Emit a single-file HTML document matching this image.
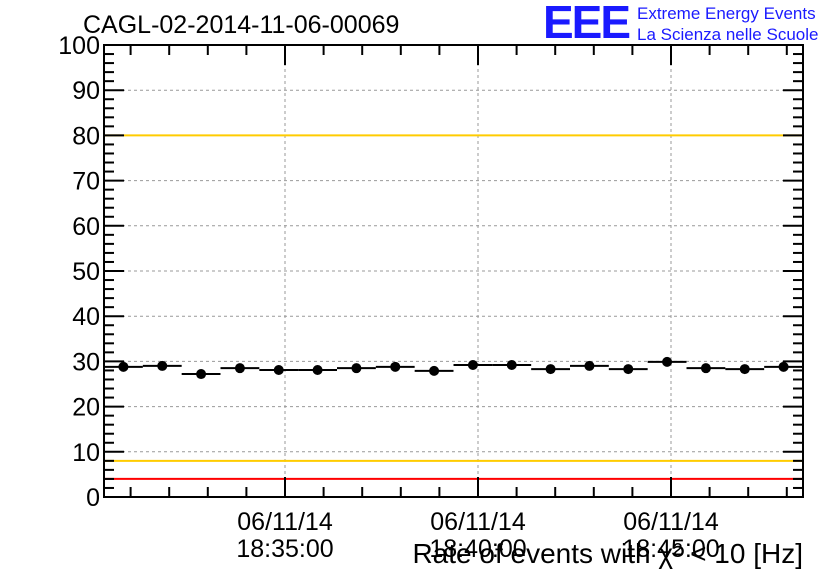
<!DOCTYPE html>
<html><head><meta charset="utf-8"><style>
body{margin:0;background:#fff;width:836px;height:572px;overflow:hidden}
svg{font-family:"Liberation Sans",sans-serif}
</style></head><body>
<svg id="chart" width="836" height="572">
<g id="grid"></g><g id="axes"></g><g id="marks"></g>
<text x="83" y="33" font-size="25" fill="#000">CAGL-02-2014-11-06-00069</text>
<text x="543" y="38" font-size="46" font-weight="bold" fill="#1a1aff" letter-spacing="-2">EEE</text>
<text x="637" y="19" font-size="17" fill="#1a1aff">Extreme Energy Events</text>
<text x="637" y="40" font-size="17" fill="#1a1aff">La Scienza nelle Scuole</text>
<text x="803" y="563" font-size="28" text-anchor="end" fill="#000">Rate of events with χ² &lt; 10 [Hz]</text>
</svg>
<script>
const values=[28.8,29.0,27.2,28.5,28.1,28.1,28.5,28.8,27.9,29.2,29.2,28.3,29.0,28.3,29.9,28.5,28.3,28.8];
const yTicks=[0,10,20,30,40,50,60,70,80,90,100];
const timeLabels=["18:35:00","18:40:00","18:45:00"];
const dateLabel="06/11/14";
const refLines=[{v:100,c:"#ff0000"},{v:80,c:"#ffcc00"},{v:8,c:"#ffcc00"},{v:4,c:"#ff0000"}];
const L=104,R=803,T=45,B=497;
const y=v=>B-(v/100)*(B-T);
const bw=(R-L)/values.length;
const x=i=>L+bw*(i+0.5);
const NS="http://www.w3.org/2000/svg";
function mk(p,tag,a){const e=document.createElementNS(NS,tag);for(const k in a)e.setAttribute(k,a[k]);p.appendChild(e);return e;}
const grid=document.getElementById('grid'),axes=document.getElementById('axes'),marks=document.getElementById('marks');
const majX=[285,478,671];
const minStep=(majX[1]-majX[0])/5;
yTicks.forEach(v=>{
 if(v>0&&v<100){const g=mk(grid,'line',{x1:L,x2:R,y1:y(v),y2:y(v),stroke:'#999','stroke-dasharray':'3,3','stroke-width':1});
 }
 const t=mk(axes,'text',{x:L-4,y:y(v)+9,'font-size':25,'text-anchor':'end'});t.textContent=v;
 
});
majX.forEach((px,i)=>{
 const g=mk(grid,'line',{x1:px,x2:px,y1:T,y2:B,stroke:'#999','stroke-dasharray':'3,3','stroke-width':1});
 
 const d=mk(axes,'text',{x:px,y:530,'font-size':25,'text-anchor':'middle'});d.textContent=dateLabel;
 
 const tl=mk(axes,'text',{x:px,y:557,'font-size':25,'text-anchor':'middle'});tl.textContent=timeLabels[i];
 
});
refLines.forEach(r=>{const l=mk(grid,'line',{x1:L,x2:R,y1:y(r.v),y2:y(r.v),stroke:r.c,'stroke-width':2});
 });
for(let v=0;v<=100;v+=2){const len=v%10==0?20:10;
 mk(axes,'line',{x1:L,x2:L+len,y1:y(v),y2:y(v),stroke:'#000','stroke-width':2});
 mk(axes,'line',{x1:R,x2:R-len,y1:y(v),y2:y(v),stroke:'#000','stroke-width':2});}
for(let k=-10;k<=20;k++){const px=majX[0]+k*minStep;if(px<L+2||px>R-2)continue;const len=k%5==0?20:10;
 mk(axes,'line',{x1:px,x2:px,y1:B,y2:B-len,stroke:'#000','stroke-width':2});
 mk(axes,'line',{x1:px,x2:px,y1:T,y2:T+len,stroke:'#000','stroke-width':2});}
const fr=mk(axes,'rect',{x:L,y:T,width:R-L,height:B-T,fill:'none',stroke:'#000','stroke-width':2});

values.forEach((v,i)=>{
 const h=mk(marks,'line',{x1:x(i)-bw/2,x2:x(i)+bw/2,y1:y(v),y2:y(v),stroke:'#000','stroke-width':2});
 
 const c=mk(marks,'circle',{cx:x(i),cy:y(v),r:5,fill:'#000'});
 
});
</script>
</body></html>
